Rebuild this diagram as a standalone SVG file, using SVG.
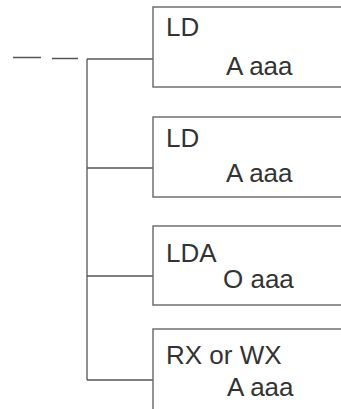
<svg xmlns="http://www.w3.org/2000/svg" width="341" height="409" viewBox="0 0 341 409">
<style>
.box{fill:#fff;stroke:#666;stroke-width:1.4}
.ln{fill:none;stroke:#555;stroke-width:1.3}
.t{font-family:"Liberation Sans",Arial,sans-serif;font-size:26px;fill:#333}
</style>
<rect width="341" height="409" fill="#fff"/>
<g id="connectors">
<path class="ln" d="M13 57.5H41 M52 58.5H78"/>
<path class="ln" d="M87 59V380 M87 59H153 M87 168H153 M87 276H153 M87 380H153"/>
</g>
<g id="node1">
<rect class="box" x="153" y="7" width="200" height="80"/>
<text class="t" x="166" y="36">LD</text>
<text class="t" x="226" y="75">A aaa</text>
</g>
<g id="node2">
<rect class="box" x="153" y="117" width="200" height="80"/>
<text class="t" x="166" y="147">LD</text>
<text class="t" x="226" y="182">A aaa</text>
</g>
<g id="node3">
<rect class="box" x="153" y="226" width="200" height="79"/>
<text class="t" x="166" y="262">LDA</text>
<text class="t" x="223" y="288">O aaa</text>
</g>
<g id="node4">
<rect class="box" x="153" y="329" width="200" height="90"/>
<text class="t" x="166" y="364">RX or WX</text>
<text class="t" x="227" y="396">A aaa</text>
</g>
</svg>
